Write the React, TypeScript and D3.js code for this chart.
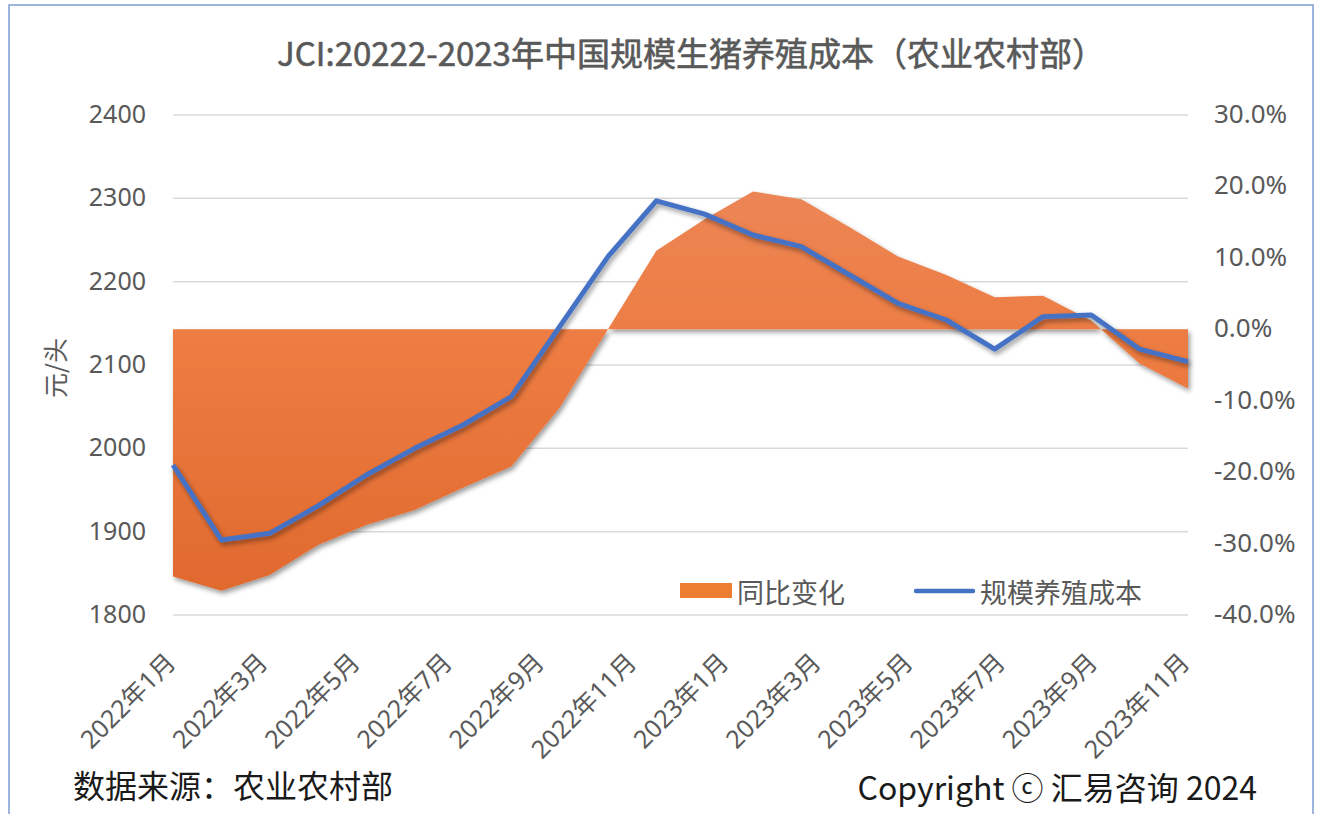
import * as d3 from "d3";

// 规模养殖成本（元/头）
const costValues = [
  1980, 1890, 1898, 1931, 1968, 2000, 2028, 2062, 2146, 2230, 2297,
  2281, 2256, 2242, 2208, 2174, 2154, 2119, 2158, 2160, 2119, 2104,
];

// 同比变化（%）
const yoyValues = [
  -34.6, -36.6, -34.4, -30.2, -27.4, -25.3, -22.2, -19.2, -11.0, 0.0, 11.0,
  15.4, 19.3, 18.2, 14.3, 10.2, 7.6, 4.5, 4.7, 1.2, -4.8, -8.3,
];

// 横轴月份
const monthLabels = [
  "2022年1月", "2022年2月", "2022年3月", "2022年4月", "2022年5月", "2022年6月",
  "2022年7月", "2022年8月", "2022年9月", "2022年10月", "2022年11月", "2022年12月",
  "2023年1月", "2023年2月", "2023年3月", "2023年4月", "2023年5月", "2023年6月",
  "2023年7月", "2023年8月", "2023年9月", "2023年10月", "2023年11月",
];

const leftTicks = [1800, 1900, 2000, 2100, 2200, 2300, 2400];
const rightTicks = [-40, -30, -20, -10, 0, 10, 20, 30];

const W = 1327;
const H = 814;
const plot = { left: 173, right: 1188, top: 115, bottom: 615 };

const tickFont = "'Noto Sans', 'Noto Sans CJK SC', sans-serif";
const cjkFont = "'Noto Sans CJK SC', 'Noto Sans', sans-serif";

export default function App() {
  const yLeft = d3.scaleLinear().domain([1800, 2400]).range([plot.bottom, plot.top]);
  const yRight = d3.scaleLinear().domain([-40, 30]).range([plot.bottom, plot.top]);
  const xData = d3
    .scaleLinear()
    .domain([0, costValues.length - 1])
    .range([plot.left, plot.right]);
  const xLabel = d3
    .scalePoint<string>()
    .domain(monthLabels)
    .range([plot.left + 1, plot.right]);

  const areaPath = d3
    .area<number>()
    .x((_, i) => xData(i))
    .y0(yRight(0))
    .y1((d) => yRight(d))(yoyValues) as string;

  const linePath = d3
    .line<number>()
    .x((_, i) => xData(i))
    .y((d) => yLeft(d))(costValues) as string;

  const shownLabels = monthLabels.filter((_, i) => i % 2 === 0);

  return (
    <svg
      width={W}
      height={H}
      viewBox={`0 0 ${W} ${H}`}
      style={{ position: "absolute", left: 0, top: 0, background: "#fff" }}
    >
      <defs>
        <linearGradient id="areaFill" gradientUnits="userSpaceOnUse" x1="0" y1="185" x2="0" y2="595">
          <stop offset="0%" stopColor="#EC8656" />
          <stop offset="40%" stopColor="#ED7C42" />
          <stop offset="100%" stopColor="#E0692E" />
        </linearGradient>
        <filter id="shadow" x="-10%" y="-10%" width="120%" height="130%">
          <feDropShadow dx="2" dy="3" stdDeviation="2.5" floodColor="#000" floodOpacity="0.4" />
        </filter>
      </defs>

      {/* 外框 */}
      <rect x={9} y={5} width={1304} height={840} fill="none" stroke="#7e9ccf" strokeWidth={1.5} />

      {/* 标题 */}
      <text
        x={691}
        y={52}
        textAnchor="middle"
        dominantBaseline="central"
        fontFamily={cjkFont}
        fontSize={33}
        fill="#595959"
        stroke="#595959"
        strokeWidth={0.6}
      >
        JCI:20222-2023年中国规模生猪养殖成本（农业农村部）
      </text>

      {/* 网格线 */}
      {leftTicks.map((t) => (
        <line
          key={t}
          x1={plot.left}
          x2={plot.right}
          y1={yLeft(t)}
          y2={yLeft(t)}
          stroke="#d9d9d9"
          strokeWidth={1.5}
        />
      ))}

      {/* 同比变化 面积 */}
      <path d={areaPath} fill="url(#areaFill)" filter="url(#shadow)" />

      {/* 规模养殖成本 折线 */}
      <path
        d={linePath}
        fill="none"
        stroke="#4472C4"
        strokeWidth={5}
        strokeLinejoin="round"
        filter="url(#shadow)"
      />

      {/* 左轴 */}
      {leftTicks.map((t) => (
        <text
          key={t}
          x={146}
          y={yLeft(t) - 2}
          textAnchor="end"
          dominantBaseline="central"
          fontFamily={tickFont}
          fontSize={25}
          fill="#595959"
        >
          {t}
        </text>
      ))}
      <text
        transform={`translate(54,368) rotate(-90)`}
        textAnchor="middle"
        dominantBaseline="central"
        fontFamily={cjkFont}
        fontSize={25}
        fill="#595959"
      >
        元/头
      </text>

      {/* 右轴 */}
      {rightTicks.map((t) => (
        <text
          key={t}
          x={1214}
          y={yRight(t) - 2}
          textAnchor="start"
          dominantBaseline="central"
          fontFamily={tickFont}
          fontSize={26}
          fill="#595959"
        >
          {`${t.toFixed(1)}%`}
        </text>
      ))}

      {/* 横轴标签 */}
      {shownLabels.map((m) => {
        const x = (xLabel(m) as number) - 4;
        const y = 657;
        return (
          <text
            key={m}
            transform={`translate(${x},${y}) rotate(-45)`}
            textAnchor="end"
            dominantBaseline="central"
            fontFamily={tickFont}
            fontSize={25}
            fill="#595959"
          >
            {m}
          </text>
        );
      })}

      {/* 图例 */}
      <rect x={680} y={583} width={52} height={15} fill="#ED7D31" />
      <text x={737} y={591} dominantBaseline="central" fontFamily={cjkFont} fontSize={27} fill="#595959">
        同比变化
      </text>
      <line x1={916} x2={973} y1={591} y2={591} stroke="#4472C4" strokeWidth={4.5} strokeLinecap="round" />
      <text x={980} y={591} dominantBaseline="central" fontFamily={cjkFont} fontSize={27} fill="#595959">
        规模养殖成本
      </text>

      {/* 底部说明 */}
      <text x={73} y={784} dominantBaseline="central" fontFamily={cjkFont} fontSize={32} fill="#1a1a1a">
        数据来源：农业农村部
      </text>
      <text x={1257} y={786} textAnchor="end" dominantBaseline="central" fontFamily={cjkFont} fontSize={32} fill="#1a1a1a">
        Copyright ⓒ 汇易咨询 2024
      </text>
    </svg>
  );
}
